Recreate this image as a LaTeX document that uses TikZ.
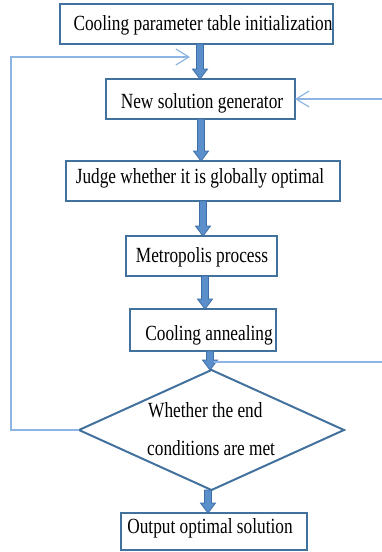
\documentclass[tikz,border=0pt]{standalone}
\usepackage{fontspec}
\setmainfont{Liberation Serif}
\usepackage{graphicx}
\usetikzlibrary{arrows.meta,shapes.geometric,calc}
\definecolor{boxblue}{HTML}{41719C}
\definecolor{arrfill}{HTML}{5B8FCB}
\definecolor{arrline}{HTML}{3E6EA6}
\definecolor{loopblue}{HTML}{8EB4E3}
\newcommand{\tx}[1]{\scalebox{1}[1.25]{#1}}
\newcommand{\fatarrow}[3]{%
  \draw[fatarr] let \p1=(#2.south), \p2=(#3.north) in
  (#1pt-3.5pt,\y1) -- (#1pt-3.5pt,\y2+10pt) -- (#1pt-7.5pt,\y2+10pt) -- (#1pt,\y2)
  -- (#1pt+7.5pt,\y2+10pt) -- (#1pt+3.5pt,\y2+10pt) -- (#1pt+3.5pt,\y1) -- cycle;}
\begin{document}
\begin{tikzpicture}[x=1pt,y=-1pt,
  procbox/.style={draw=boxblue,line width=2pt,rectangle,inner sep=0pt,outer sep=0pt},
  txt/.style={font=\fontsize{17.3}{21}\selectfont,inner sep=0pt,anchor=base},
  fatarr/.style={fill=arrfill,draw=arrline,line width=0.8pt,line join=miter},
  fbline/.style={draw=loopblue,line width=1.6pt},
  chev/.style={-{Straight Barb[length=13pt,width=16pt,line width=1.2pt]}}]
\useasboundingbox (0,0) rectangle (382,552);
% boxes
\node[procbox,minimum width=273pt,minimum height=40pt] (b1) at (196.5,24) {};
\node[procbox,minimum width=189pt,minimum height=40pt] (b2) at (200.5,99) {};
\node[procbox,minimum width=274pt,minimum height=40pt] (b3) at (203,181) {};
\node[procbox,minimum width=151pt,minimum height=40pt] (b4) at (201.5,256) {};
\node[procbox,minimum width=146pt,minimum height=42pt] (b5) at (203,330) {};
\node[draw=boxblue,line width=2pt,diamond,minimum width=265pt,minimum height=120pt,inner sep=0pt,outer sep=0pt] (d) at (211.5,430) {};
\node[procbox,minimum width=186pt,minimum height=37pt] (b6) at (214,531.5) {};
% texts
\node[txt] (t1) at (203,30) {\tx{Cooling parameter table initialization}};
\node[txt] (t2) at (202,108) {\tx{New solution generator}};
\node[txt] (t3) at (200,183) {\tx{Judge whether it is globally optimal}};
\node[txt] (t4) at (202,262) {\tx{Metropolis process}};
\node[txt] (t5) at (209,340) {\tx{Cooling annealing}};
\node[txt,anchor=base west] (t6a) at (148,417) {\tx{Whether the end}};
\node[txt,anchor=base west] (t6b) at (147,455) {\tx{conditions are met}};
\node[txt] (t7) at (210,533) {\tx{Output optimal solution}};
% fat arrows
\fatarrow{200}{b1}{b2}
\fatarrow{201}{b2}{b3}
\fatarrow{203}{b3}{b4}
\fatarrow{205}{b4}{b5}
\fatarrow{210}{b5}{d}
\fatarrow{208}{d}{b6}
% feedback lines
\coordinate (fbend) at (190,57);
\coordinate (lcorner) at (11,57);
\coordinate (r1) at (382,99);
\coordinate (r2) at (382,362);
\coordinate (j) at (214,362);
\draw[fbline,chev] (d.west) -| (lcorner) -- (fbend);
\draw[fbline,chev] (r1) -- (b2.east);
\draw[fbline] (r2) -- (j);
\end{tikzpicture}
\end{document}
